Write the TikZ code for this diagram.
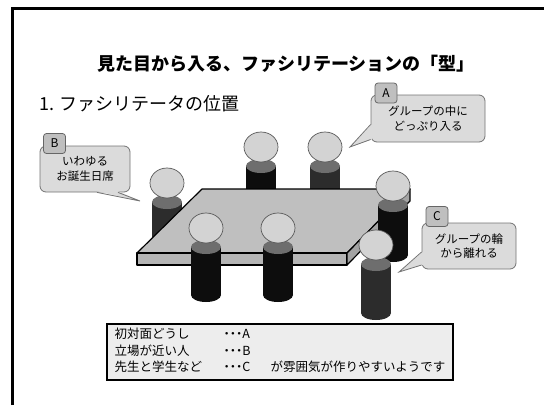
\documentclass[tikz,border=0pt]{standalone}
\usepackage{fontspec}
\setmainfont{Noto Sans CJK JP}
\usetikzlibrary{calc}

\definecolor{bodyblack}{HTML}{0D0D0D}
\definecolor{bodydark}{HTML}{2C2C2C}
\definecolor{capgray}{HTML}{6E6E6E}
\definecolor{headgray}{HTML}{D3D3D3}

% one seated person: x, y of the shoulders, y of the feet, body colour
\newcommand{\sitter}[4]{%
  \fill[#4] (#1,#3) ellipse[x radius=15, y radius=7];
  \fill[#4] (#1-15,#2) rectangle (#1+15,#3);
  \fill[capgray] (#1,#2) ellipse[x radius=15, y radius=7];
  \filldraw[fill=headgray, draw=black!65, line width=0.7pt] (#1,#2-19) ellipse[x radius=17, y radius=15];
}

\begin{document}
\begin{tikzpicture}[x=1pt, y=-1pt,
    bubble/.style={draw=black!55, fill=black!14, rounded corners=6pt, line width=0.8pt,
      align=center, inner sep=0pt, font=\fontsize{11.5}{14.5}\selectfont},
    tag/.style={draw=black!60, fill=black!25, rounded corners=3pt, line width=0.8pt,
      minimum width=22pt, minimum height=20pt, inner sep=0pt, font=\fontsize{12}{14}\selectfont},
    slab/.style={draw=black, line width=1.2pt, line join=round},
    memo/.style={draw=black, line width=1.6pt, fill=black!7, inner sep=0pt,
      minimum width=346pt, minimum height=56pt}]

  \useasboundingbox (0,0) rectangle (544,405);

  % slide frame
  \draw[line width=3pt] (12.5,405) -- (12.5,8.5) -- (544,8.5);

  % headings
  \node[inner sep=0pt, font=\fontsize{18}{20}\selectfont\bfseries] (title) at (286,64) {見た目から入る、ファシリテーションの「型」};
  \node[inner sep=0pt, anchor=west, font=\fontsize{18}{20}\selectfont] (heading) at (39,104) {1. ファシリテータの位置};

  % people behind the table
  \sitter{261}{166}{215}{bodyblack}
  \sitter{325}{166}{215}{bodydark}
  \sitter{167}{202}{245}{bodydark}

  % table
  \filldraw[slab, fill=black!25] (202,189) -- (410,189) -- (347,253) -- (137,253) -- cycle;
  \filldraw[slab, fill=black!29] (137,253) rectangle (347,265);
  \filldraw[slab, fill=black!36] (347,253) -- (410,189) -- (410,201) -- (347,265) -- cycle;

  % people in front
  \sitter{393}{205}{255}{bodyblack}
  \sitter{206}{247}{295}{bodyblack}
  \sitter{278}{247}{295}{bodyblack}
  \sitter{376}{264}{313}{bodydark}

  % callouts
  \node[bubble, minimum width=114pt, minimum height=47pt] (bubA) at (428,118.5) {グループの中に\\どっぷり入る};
  \node[bubble, minimum width=90pt, minimum height=46pt] (bubB) at (85,169) {いわゆる\\お誕生日席};
  \node[bubble, minimum width=94pt, minimum height=46pt] (bubC) at (469,246) {グループの輪\\から離れる};

  \coordinate (tipA) at (350,147);
  \coordinate (tipB) at (140,201);
  \coordinate (tipC) at (399,272);

  \fill[black!14] ($(bubA.west)+(1.2,6)$) -- (tipA) -- ($(bubA.west)+(1.2,21)$) -- cycle;
  \draw[black!55, line width=0.8pt] ($(bubA.west)+(0,6)$) -- (tipA) -- ($(bubA.west)+(0,21)$);
  \fill[black!14] ($(bubB.south)+(12,-1.2)$) -- (tipB) -- ($(bubB.south)+(33,-1.2)$) -- cycle;
  \draw[black!55, line width=0.8pt] ($(bubB.south)+(12,0)$) -- (tipB) -- ($(bubB.south)+(33,0)$);
  \fill[black!14] ($(bubC.west)+(1.2,6)$) -- (tipC) -- ($(bubC.west)+(1.2,19)$) -- cycle;
  \draw[black!55, line width=0.8pt] ($(bubC.west)+(0,6)$) -- (tipC) -- ($(bubC.west)+(0,19)$);

  \node[tag] (tagA) at (386,93) {A};
  \node[tag] (tagB) at (54.5,143.5) {B};
  \node[tag] (tagC) at (437,216.5) {C};

  % summary box
  \node[memo] (memo) at (280,352) {\fontsize{12.5}{16.5}\selectfont
    \begin{tabular}{@{}p{109pt}@{}p{47pt}@{}l@{}}
      初対面どうし & \textbf{･･･}A & \\
      立場が近い人 & \textbf{･･･}B & \\
      先生と学生など & \textbf{･･･}C & が雰囲気が作りやすいようです
    \end{tabular}};

\end{tikzpicture}
\end{document}
